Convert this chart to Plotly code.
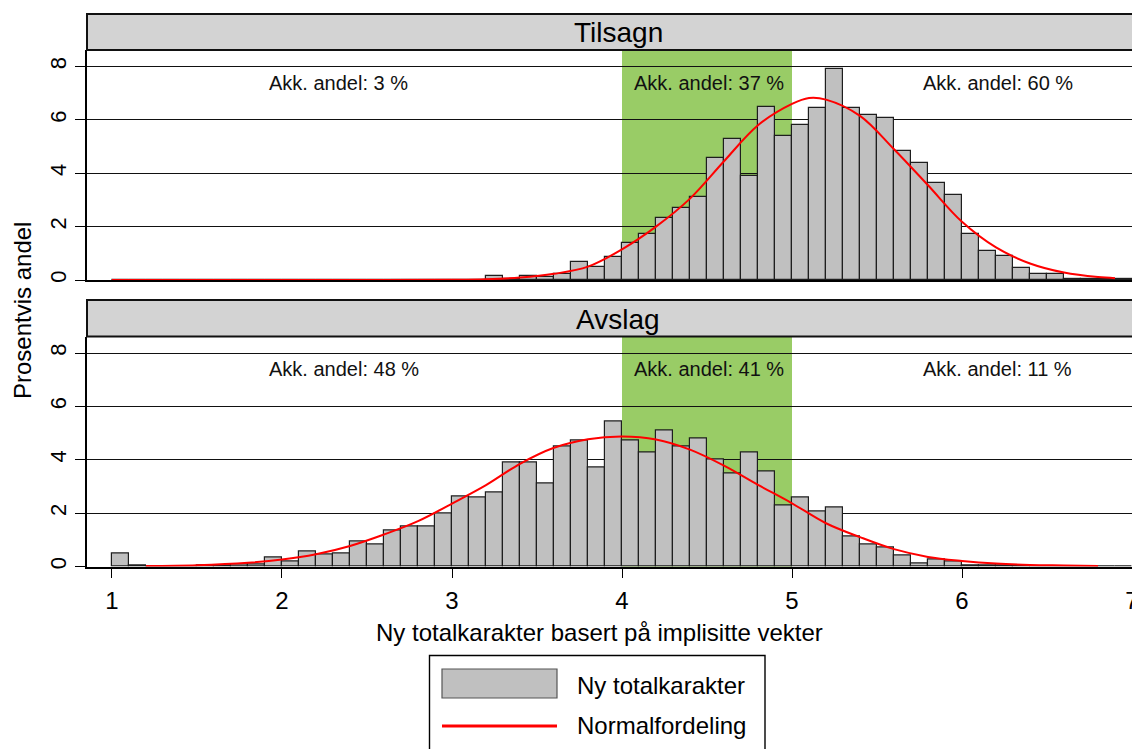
import plotly.graph_objects as go

# ---------------- data ----------------
bin_start = [1.0, 1.1, 1.2, 1.3, 1.4, 1.5, 1.6, 1.7, 1.8, 1.9,
             2.0, 2.1, 2.2, 2.3, 2.4, 2.5, 2.6, 2.7, 2.8, 2.9,
             3.0, 3.1, 3.2, 3.3, 3.4, 3.5, 3.6, 3.7, 3.8, 3.9,
             4.0, 4.1, 4.2, 4.3, 4.4, 4.5, 4.6, 4.7, 4.8, 4.9,
             5.0, 5.1, 5.2, 5.3, 5.4, 5.5, 5.6, 5.7, 5.8, 5.9,
             6.0, 6.1, 6.2, 6.3, 6.4, 6.5, 6.6, 6.7, 6.8, 6.9]
bin_width = 0.1

tilsagn_pct = [0, 0, 0, 0, 0, 0, 0, 0, 0, 0,
               0, 0, 0, 0, 0, 0, 0, 0, 0, 0,
               0, 0, 0.15, 0.03, 0.15, 0.13, 0.22, 0.67, 0.47, 0.85,
               1.4, 1.71, 2.31, 2.68, 3.11, 4.59, 5.28, 3.91, 6.49, 5.38,
               5.81, 6.43, 7.9, 6.43, 6.18, 6.06, 4.85, 4.4, 3.63, 3.18,
               1.71, 1.08, 0.91, 0.46, 0.22, 0.22, 0.05, 0.05, 0.03, 0.02]

avslag_pct = [0.49, 0.04, 0, 0, 0, 0.02, 0.03, 0.08, 0.07, 0.34,
              0.19, 0.56, 0.46, 0.48, 0.93, 0.84, 1.35, 1.49, 1.49, 2.0,
              2.63, 2.58, 2.76, 3.91, 3.91, 3.12, 4.5, 4.72, 3.7, 5.45,
              4.71, 4.29, 5.09, 4.5, 4.79, 4.0, 3.47, 4.27, 3.55, 2.29,
              2.58, 2.06, 2.21, 1.13, 0.84, 0.7, 0.41, 0.11, 0.26, 0.19,
              0.02, 0.02, 0.05, 0.04, 0.01, 0.01, 0.01, 0.01, 0.01, 0.01]

# normal curves
tilsagn_curve_x = [1.0, 2.6, 3.0, 3.2, 3.4, 3.6, 3.8, 4.0, 4.2, 4.4, 4.6, 4.8,
                   5.0, 5.1, 5.2, 5.4, 5.6, 5.8, 6.0, 6.2, 6.4, 6.6, 6.8, 6.9]
tilsagn_curve_y = [0.0, 0.0, 0.01, 0.03, 0.09, 0.23, 0.5, 1.15, 2.0, 3.05, 4.45, 5.8,
                   6.6, 6.82, 6.76, 6.15, 4.9, 3.55, 2.18, 1.22, 0.62, 0.28, 0.11, 0.07]

avslag_curve_x = [1.2, 1.5, 1.8, 2.0, 2.2, 2.4, 2.6, 2.8, 3.0, 3.2, 3.4, 3.6, 3.8,
                  4.0, 4.2, 4.4, 4.6, 4.8, 5.0, 5.2, 5.4, 5.6, 5.8, 6.0, 6.2,
                  6.4, 6.6, 6.8]
avslag_curve_y = [0.02, 0.05, 0.14, 0.26, 0.46, 0.77, 1.2, 1.7, 2.36, 3.05, 3.85, 4.45, 4.77,
                  4.87, 4.76, 4.38, 3.78, 3.06, 2.37, 1.62, 1.1, 0.65, 0.36, 0.21, 0.11,
                  0.06, 0.04, 0.02]

panel_titles = ["Tilsagn", "Avslag"]
tilsagn_akk = ["Akk. andel: 3 %", "Akk. andel: 37 %", "Akk. andel: 60 %"]
avslag_akk = ["Akk. andel: 48 %", "Akk. andel: 41 %", "Akk. andel: 11 %"]
akk_x = [1.91, 4.06, 5.76]
band = [4, 5]
x_ticks = [1, 2, 3, 4, 5, 6, 7]
y_ticks = [0, 2, 4, 6, 8]
x_title = "Ny totalkarakter basert på implisitte vekter"
y_title = "Prosentvis andel"
legend_labels = ["Ny totalkarakter", "Normalfordeling"]

# ---------------- styling ----------------
OFF = 8                       # page body margin
W, H = 1140 - OFF, 749 - OFF
ML = 87 - OFF
PW = W - ML
FONT = "Arial, Liberation Sans, sans-serif"
BAR_FILL = "#c0c0c0"
BAR_LINE = "#1e1e1e"
GREEN = "#99cc66"
STRIP = "#d3d3d3"


def py(px):
    """page pixel row -> paper y"""
    return 1 - (px - OFF) / H


def pxx(px):
    """page pixel column -> paper x"""
    return (px - OFF - ML) / PW


fig = go.Figure()

for i, (vals, cx, cy) in enumerate([(tilsagn_pct, tilsagn_curve_x, tilsagn_curve_y),
                                    (avslag_pct, avslag_curve_x, avslag_curve_y)]):
    xa = "x" if i == 0 else "x2"
    ya = "y" if i == 0 else "y2"
    fig.add_trace(go.Bar(x=bin_start, y=vals, width=bin_width, offset=0,
                         marker=dict(color=BAR_FILL, line=dict(color=BAR_LINE, width=1.2)),
                         xaxis=xa, yaxis=ya, showlegend=False,
                         name=legend_labels[0]))
    fig.add_trace(go.Scatter(x=cx, y=cy, mode="lines",
                             line=dict(color="#ff0000", width=2, shape="spline", smoothing=1.0),
                             xaxis=xa, yaxis=ya, showlegend=False,
                             name=legend_labels[1]))

xr = [0.853, 7.047]
yr = [0, 8.62]
top_dom = [py(280), py(50)]
bot_dom = [py(566.5), py(336.5)]

common_y = dict(range=yr, tickvals=y_ticks, ticks="outside", ticklen=10, tickwidth=1.3,
                tickcolor="black", showline=True, linewidth=1.6, linecolor="black",
                showgrid=True, gridcolor="#111111", gridwidth=1, zeroline=False,
                tickangle=-90, tickfont=dict(size=22, color="black", family=FONT),
                automargin=False, fixedrange=True)

fig.update_layout(
    width=W, height=H,
    margin=dict(l=ML, r=0, t=0, b=0),
    paper_bgcolor="white", plot_bgcolor="white",
    font=dict(family=FONT, color="black"),
    template="none",
    showlegend=False,
    bargap=0,
    xaxis=dict(domain=[0, 1], range=xr, anchor="y", showticklabels=False, ticks="",
               showgrid=False, zeroline=False, showline=True, linewidth=1.6,
               linecolor="black", automargin=False),
    xaxis2=dict(domain=[0, 1], range=xr, anchor="y2", tickvals=x_ticks, ticks="outside",
                ticklen=10, tickwidth=1.3, tickcolor="black", showgrid=False, zeroline=False,
                showline=True, linewidth=1.6, linecolor="black",
                tickfont=dict(size=24, color="black", family=FONT), automargin=False,
                ticklabelstandoff=2, ticklabeloverflow="allow"),
    yaxis=dict(domain=top_dom, anchor="x", **common_y),
    yaxis2=dict(domain=bot_dom, anchor="x2", **common_y),
)

shapes = []
anns = []
# green bands
for yd in ["y domain", "y2 domain"]:
    xref = "x" if yd == "y domain" else "x2"
    shapes.append(dict(type="rect", xref=xref, yref=yd, x0=band[0], x1=band[1], y0=0, y1=1,
                       fillcolor=GREEN, line=dict(width=0), layer="below"))

# strips
strip_rows = [(14, 50), (300, 336.5)]
for (t, b), title in zip(strip_rows, panel_titles):
    shapes.append(dict(type="rect", xref="paper", yref="paper", x0=0, x1=1.01,
                       y0=py(b), y1=py(t), fillcolor=STRIP,
                       line=dict(color="#111111", width=2), layer="above"))
    anns.append(dict(text=title, xref="paper", yref="paper", x=pxx(618), y=py((t + b) / 2 + 1),
                     xanchor="center", yanchor="middle", showarrow=False,
                     font=dict(size=28, color="black", family=FONT)))

# Akk. andel texts
for texts, xref, yref in [(tilsagn_akk, "x", "y"), (avslag_akk, "x2", "y2")]:
    for t, xv in zip(texts, akk_x):
        anns.append(dict(text=t, xref=xref, yref=yref, x=xv, y=7.4, xanchor="left",
                         yanchor="middle", showarrow=False,
                         font=dict(size=20, color="#111111", family=FONT)))

# axis titles
anns.append(dict(text=x_title, xref="paper", yref="paper", x=pxx(599), y=py(632),
                 xanchor="center", yanchor="middle", showarrow=False,
                 font=dict(size=24, color="black", family=FONT)))
anns.append(dict(text=y_title, xref="paper", yref="paper", x=pxx(22), y=py(311),
                 xanchor="center", yanchor="middle", showarrow=False, textangle=-90,
                 font=dict(size=24, color="black", family=FONT)))

# legend (drawn box)
shapes.append(dict(type="rect", xref="paper", yref="paper", x0=pxx(429.5), x1=pxx(765),
                   y0=py(770), y1=py(655.5), fillcolor="white",
                   line=dict(color="black", width=1.4), layer="above"))
shapes.append(dict(type="rect", xref="paper", yref="paper", x0=pxx(442), x1=pxx(557),
                   y0=py(698), y1=py(669), fillcolor=BAR_FILL,
                   line=dict(color="#555555", width=1.2), layer="above"))
shapes.append(dict(type="line", xref="paper", yref="paper", x0=pxx(442), x1=pxx(557),
                   y0=py(726), y1=py(726), line=dict(color="#ff0000", width=3), layer="above"))
anns.append(dict(text=legend_labels[0], xref="paper", yref="paper", x=pxx(575), y=py(685),
                 xanchor="left", yanchor="middle", showarrow=False,
                 font=dict(size=24, color="black", family=FONT)))
anns.append(dict(text=legend_labels[1], xref="paper", yref="paper", x=pxx(575), y=py(725),
                 xanchor="left", yanchor="middle", showarrow=False,
                 font=dict(size=24, color="black", family=FONT)))

fig.update_layout(shapes=shapes, annotations=anns)
fig.write_html("out.html")
